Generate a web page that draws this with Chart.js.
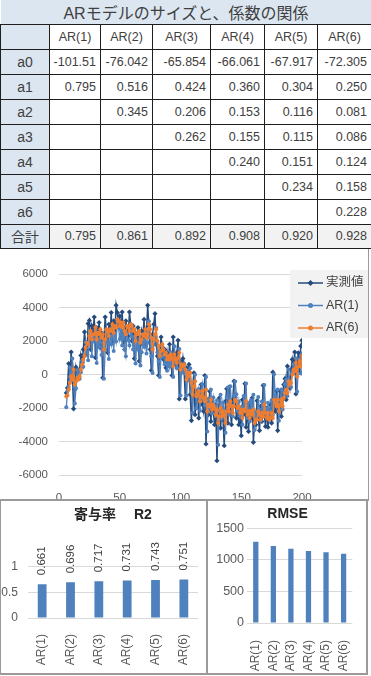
<!DOCTYPE html>
<html>
<head>
<meta charset="utf-8">
<script src="https://cdn.jsdelivr.net/npm/chart.js@4.4.0/dist/chart.umd.min.js"></script>
<style>
  body { margin: 0; width: 371px; height: 676px; position: relative; overflow: hidden; background: #fff;
         font-family: "Liberation Sans", "Noto Sans CJK JP", sans-serif; color: #404040; }
  #coef { position: absolute; left: 0; top: 0; width: 371px; border-collapse: collapse; table-layout: fixed; }
  #coef tr { height: 24.9px; }
  #coef td { border: 1px solid #1e1e1e; padding: 0 4px 0 0; font-size: 12.5px; text-align: right; white-space: nowrap; overflow: hidden; }
  #coef td.title { border: none; border-bottom: 1px solid #1e1e1e; background: #DCE6F1; text-align: center; font-size: 16px; padding: 0; }
  #coef td.hd { text-align: center; padding: 0; }
  #coef td.rl { background: #DCE6F1; text-align: center; font-size: 14px; padding: 0; }
  #coef tr.tot td { background: #F2F2F2; }
  #coef tr.tot td.rl { background: #DCE6F1; }
  canvas { position: absolute; }
  .ln { position: absolute; background: #9a9a9a; }
</style>
</head>
<body>
<table id="coef"></table>

<canvas id="lineChart" width="368" height="249" style="left:0;top:250px"></canvas>
<canvas id="r2Chart" width="206" height="173" style="left:1px;top:501px"></canvas>
<canvas id="rmseChart" width="159" height="173" style="left:208px;top:501px"></canvas>

<div class="ln" style="left:368px;top:249px;width:1px;height:251px"></div>
<div class="ln" style="left:0;top:499px;width:369px;height:2px"></div>
<div class="ln" style="left:206px;top:500px;width:2px;height:175px"></div>
<div class="ln" style="left:366px;top:500px;width:2px;height:175px"></div>
<div class="ln" style="left:0;top:673px;width:368px;height:2px"></div>
<div class="ln" style="left:0;top:500px;width:1px;height:175px"></div>

<script>
// table
const models = ['AR(1)', 'AR(2)', 'AR(3)', 'AR(4)', 'AR(5)', 'AR(6)'];
const coefNames = ['a0', 'a1', 'a2', 'a3', 'a4', 'a5', 'a6'];
const a0 = ['-101.51', '-76.042', '-65.854', '-66.061', '-67.917', '-72.305'];
const a1 = ['0.795', '0.516', '0.424', '0.360', '0.304', '0.250'];
const a2 = ['', '0.345', '0.206', '0.153', '0.116', '0.081'];
const a3 = ['', '', '0.262', '0.155', '0.115', '0.086'];
const a4 = ['', '', '', '0.240', '0.151', '0.124'];
const a5 = ['', '', '', '', '0.234', '0.158'];
const a6 = ['', '', '', '', '', '0.228'];
const coefTotal = ['0.795', '0.861', '0.892', '0.908', '0.920', '0.928'];

// bar charts
const r2 = [0.661, 0.696, 0.717, 0.731, 0.743, 0.751];
const rmse = [1285, 1220, 1175, 1140, 1122, 1095];

// line chart: t = 6 .. 200
const START_T = 6;
const actual = [
  -1100, -800, 650, -300, 1340, 200, -2050, -900, 440, 100,
  -200, 300, 1140, 700, 1500, 2540, 1800, 1200, 3040, 3230,
  1500, 2900, 2600, 3430, 1000, 2800, 2200, 3100, 1600, 2500,
  -200, 2000, 3430, 2600, 1300, 3000, 2400, 3700, 1900, 3200,
  2600, 4130, 3700, 2800, 3500, 2300, 3730, 2000, 1500, 3200,
  2700, 2300, 3730, 3000, 2000, 2900, 950, 2500, 2000, 2800,
  800, 1800, 2600, 2200, 3290, 1700, 2500, 4130, 2900, 1500,
  240, 2400, 3000, 3630, 1800, 1100, -60, 1400, 2240, 1600,
  900, 1500, 400, 1300, 700, 1800, 1000, -60, 2240, 1000,
  600, 1300, 2040, -1460, 800, 300, 950, 200, -1460, 400,
  -300, 600, -1200, -2750, -800, 100, -2400, -1500, -960, -2600,
  -1200, -600, -1800, -2200, -60, -4150, -1700, -2400, -1000, -2800,
  -1600, -2200, -3000, -1800, -5150, -2600, -1400, -3200, -2000, -2700,
  -4250, -1600, -850, -2900, -750, -2200, -3000, -1500, -400, -1360,
  -2600, -1900, -3000, -2300, -3650, -1500, -2400, -550, -3150, -2000,
  -3400, -1800, -2600, -1400, -4050, -2700, -3000, -1560, -2500, -3350,
  -1900, -2800, -650, -2400, -3100, -2000, -3150, -2600, -1800, -2900,
  140, -1500, -2200, -1000, -3350, -1800, -1000, -2500, -1200, -600,
  -250, -1500, 500, -400, -800, 300, 900, 400, 1340, -1160,
  700, 1300, 200, 1700, 2040
];
const ar1 = [
  -1960, -980, -740, 420, -340, 960, 60, -1730, -820, 250,
  -20, -260, 140, 800, 460, 1090, 1920, 1330, 850, 2320,
  2470, 1090, 2200, 1970, 2630, 690, 2120, 1650, 2360, 1170,
  1890, -260, 1490, 2630, 1970, 930, 2280, 1810, 2840, 1410,
  2440, 1970, 3180, 2840, 2120, 2680, 1730, 2860, 1490, 1090,
  2440, 2050, 1730, 2860, 2280, 1490, 2200, 650, 1890, 1490,
  2120, 530, 1330, 1970, 1650, 2510, 1250, 1890, 3180, 2200,
  1090, 90, 1810, 2280, 2780, 1330, 770, -150, 1010, 1680,
  1170, 610, 1090, 220, 930, 460, 1330, 690, -150, 1680,
  690, 380, 930, 1520, -1260, 530, 140, 650, 60, -1260,
  220, -340, 380, -1060, -2290, -740, -20, -2010, -1290, -860,
  -2170, -1060, -580, -1530, -1850, -150, -3400, -1450, -2010, -900,
  -2330, -1370, -1850, -2490, -1530, -4200, -2170, -1210, -2650, -1690,
  -2250, -3480, -1370, -780, -2410, -700, -1850, -2490, -1290, -420,
  -1180, -2170, -1610, -2490, -1930, -3000, -1290, -2010, -540, -2610,
  -1690, -2800, -1530, -2170, -1210, -3320, -2250, -2490, -1340, -2090,
  -2760, -1610, -2330, -620, -2010, -2570, -1690, -2610, -2170, -1530,
  -2410, 10, -1290, -1850, -900, -2760, -1530, -900, -2090, -1060,
  -580, -300, -1290, 300, -420, -740, 140, 610, 220, 960,
  -1020, 460, 930, 60, 1250
];
const ar6 = [
  -1320, -1250, -900, -500, -100, -300, 300, -600, -400, -200,
  -300, -100, 300, 600, 900, 1100, 1600, 1900, 1800, 2300,
  2600, 2100, 2400, 2400, 2800, 2100, 2500, 2400, 2700, 2200,
  2400, 1500, 2100, 2700, 2600, 2300, 2700, 2600, 3000, 2500,
  2900, 2800, 3300, 3200, 2900, 3100, 2800, 3100, 2600, 2400,
  2900, 2800, 2600, 3000, 2900, 2600, 2700, 2000, 2500, 2400,
  2600, 1900, 2100, 2400, 2300, 2700, 2200, 2400, 3000, 2700,
  2200, 1500, 2100, 2400, 2700, 2000, 1700, 1100, 1400, 1800,
  1500, 1200, 1300, 900, 1100, 900, 1200, 1000, 500, 1200,
  900, 700, 1000, 1300, 300, 600, 500, 600, 300, -300,
  100, -100, 100, -500, -1200, -700, -400, -1300, -1200, -1000,
  -1600, -1300, -1000, -1400, -1600, -900, -2200, -1800, -1900, -1500,
  -2100, -1800, -2000, -2400, -2100, -2900, -2500, -2000, -2500, -2200,
  -2400, -2900, -2200, -1800, -2200, -1600, -1900, -2300, -1900, -1500,
  -1600, -2000, -1900, -2300, -2100, -2600, -2100, -2200, -1600, -2400,
  -2200, -2600, -2200, -2400, -2100, -2900, -2700, -2700, -2200, -2400,
  -2700, -2300, -2500, -1800, -2300, -2600, -2300, -2700, -2600, -2300,
  -2600, -1500, -1700, -1900, -1500, -2200, -1800, -1500, -1900, -1400,
  -1100, -900, -1100, -400, -600, -500, 0, 300, 200, 700,
  -100, 500, 800, 500, 1100
];

// build the table
const coefRows = [a0, a1, a2, a3, a4, a5, a6];
let html = '<colgroup><col style="width:49px"><col style="width:51px"><col style="width:52px">' +
  '<col style="width:58px"><col style="width:54px"><col style="width:53px"><col style="width:54px"></colgroup>';
html += '<tr><td class="title" colspan="7">ARモデルのサイズと、係数の関係</td></tr>';
html += '<tr><td class="rl"></td>' + models.map(m => '<td class="hd">' + m + '</td>').join('') + '</tr>';
coefRows.forEach((row, i) => {
  html += '<tr><td class="rl">' + coefNames[i] + '</td>' + row.map(v => '<td>' + v + '</td>').join('') + '</tr>';
});
html += '<tr class="tot"><td class="rl">合計</td>' + coefTotal.map(v => '<td>' + v + '</td>').join('') + '</tr>';
document.getElementById('coef').innerHTML = html;

Chart.defaults.font.family = '"Liberation Sans", "Noto Sans CJK JP", sans-serif';
Chart.defaults.color = '#595959';

function points(arr) {
  return arr.map((v, i) => ({ x: START_T + i, y: v }));
}

// legend drawn inside the plot, top right
const insetLegend = {
  id: 'insetLegend',
  beforeDatasetsDraw(chart) {
    const ctx = chart.ctx;
    ctx.save();
    ctx.fillStyle = '#F2F2F2';
    ctx.fillRect(290, 20, 78, 68);
    ctx.font = '12.5px "Liberation Sans", "Noto Sans CJK JP", sans-serif';
    ctx.textBaseline = 'middle';
    chart.data.datasets.forEach((ds, i) => {
      const y = 33 + i * 22.5;
      ctx.strokeStyle = ds.borderColor;
      ctx.lineWidth = 1.5;
      ctx.beginPath();
      ctx.moveTo(298, y);
      ctx.lineTo(323, y);
      ctx.stroke();
      ctx.fillStyle = ds.borderColor;
      ctx.beginPath();
      if (ds.pointStyle === 'rectRot') {
        ctx.moveTo(310.5, y - 3); ctx.lineTo(313.5, y); ctx.lineTo(310.5, y + 3); ctx.lineTo(307.5, y);
        ctx.closePath();
      } else {
        ctx.arc(310.5, y, 2.5, 0, Math.PI * 2);
      }
      ctx.fill();
      ctx.fillStyle = '#404040';
      ctx.fillText(ds.label, 326, y);
    });
    ctx.restore();
  }
};

new Chart(document.getElementById('lineChart'), {
  type: 'line',
  data: {
    datasets: [
      { label: '実測値', data: points(actual), borderColor: '#254A7C', backgroundColor: '#254A7C',
        borderWidth: 1.5, pointStyle: 'rectRot', pointRadius: 2.6, pointBorderWidth: 0, order: 2 },
      { label: 'AR(1)', data: points(ar1), borderColor: '#4F81BD', backgroundColor: '#4F81BD',
        borderWidth: 1.3, pointStyle: 'circle', pointRadius: 2, pointBorderWidth: 0, order: 1 },
      { label: 'AR(6)', data: points(ar6), borderColor: '#ED7D31', backgroundColor: '#ED7D31',
        borderWidth: 1.4, pointStyle: 'circle', pointRadius: 2, pointBorderWidth: 0, order: 0 }
    ]
  },
  options: {
    responsive: false,
    animation: false,
    layout: { padding: { left: 0, top: 24, right: 66, bottom: 0 } },
    plugins: { legend: { display: false }, tooltip: { enabled: false } },
    elements: { line: { tension: 0 } },
    scales: {
      x: {
        type: 'linear', min: 0, max: 200,
        ticks: { stepSize: 50, padding: 8, font: { size: 11.5 }, callback: v => String(v) },
        grid: { display: false },
        border: { display: false },
        afterFit: s => { s.height = 24; }
      },
      y: {
        min: -6000, max: 6000,
        ticks: { stepSize: 2000, padding: 11, font: { size: 11.5 }, callback: v => String(v) },
        grid: { color: '#D9D9D9', drawTicks: false },
        border: { display: false },
        afterFit: s => { s.width = 59; }
      }
    }
  },
  plugins: [insetLegend]
});

// rotated value labels above bars
const barValueLabels = {
  id: 'barValueLabels',
  afterDatasetsDraw(chart) {
    const ctx = chart.ctx;
    const meta = chart.getDatasetMeta(0);
    const vals = chart.data.datasets[0].data;
    ctx.save();
    ctx.font = '11.5px "Liberation Sans", sans-serif';
    ctx.fillStyle = '#404040';
    ctx.textAlign = 'left';
    ctx.textBaseline = 'middle';
    meta.data.forEach((bar, i) => {
      ctx.save();
      ctx.translate(bar.x, bar.y - 9);
      ctx.rotate(-Math.PI / 2);
      ctx.fillText(vals[i].toFixed(3), 0, 0);
      ctx.restore();
    });
    ctx.restore();
  }
};

new Chart(document.getElementById('r2Chart'), {
  type: 'bar',
  data: {
    labels: models,
    datasets: [{ data: r2, backgroundColor: '#4F81BD', barPercentage: 0.31, categoryPercentage: 1 }]
  },
  options: {
    responsive: false,
    animation: false,
    layout: { padding: { left: 0, top: 0, right: 2, bottom: 0 } },
    plugins: {
      legend: { display: false },
      tooltip: { enabled: false },
      title: { display: true, text: '寄与率　 R2', color: '#262626', fullSize: false,
               font: { size: 14, weight: 'bold' }, padding: { top: 6, bottom: 43 } }
    },
    scales: {
      x: {
        ticks: { minRotation: 90, maxRotation: 90, autoSkip: false, padding: 8, font: { size: 12 } },
        grid: { display: false },
        border: { display: false },
        afterFit: s => { s.height = 56; }
      },
      y: {
        min: 0, max: 1,
        ticks: { stepSize: 0.5, padding: 10, font: { size: 12 }, callback: v => String(v) },
        grid: { color: '#D9D9D9', drawTicks: false },
        border: { display: false },
        afterFit: s => { s.width = 27; }
      }
    }
  },
  plugins: [barValueLabels]
});

new Chart(document.getElementById('rmseChart'), {
  type: 'bar',
  data: {
    labels: models,
    datasets: [{ data: rmse, backgroundColor: '#4F81BD', barPercentage: 0.3, categoryPercentage: 1 }]
  },
  options: {
    responsive: false,
    animation: false,
    layout: { padding: { left: 0, top: 0, right: 0, bottom: 0 } },
    plugins: {
      legend: { display: false },
      tooltip: { enabled: false },
      title: { display: true, text: 'RMSE', color: '#262626',
               font: { size: 14, weight: 'bold' }, padding: { top: 5, bottom: 5.5 } }
    },
    scales: {
      x: {
        ticks: { minRotation: 90, maxRotation: 90, autoSkip: false, padding: 9, font: { size: 12 } },
        grid: { display: false },
        border: { display: false },
        afterFit: s => { s.height = 51; }
      },
      y: {
        min: 0, max: 1500,
        ticks: { stepSize: 500, padding: 3, font: { size: 12.5 }, callback: v => String(v) },
        grid: { color: '#D9D9D9', drawTicks: false },
        border: { display: false },
        afterFit: s => { s.width = 39; }
      }
    }
  }
});
</script>
</body>
</html>
